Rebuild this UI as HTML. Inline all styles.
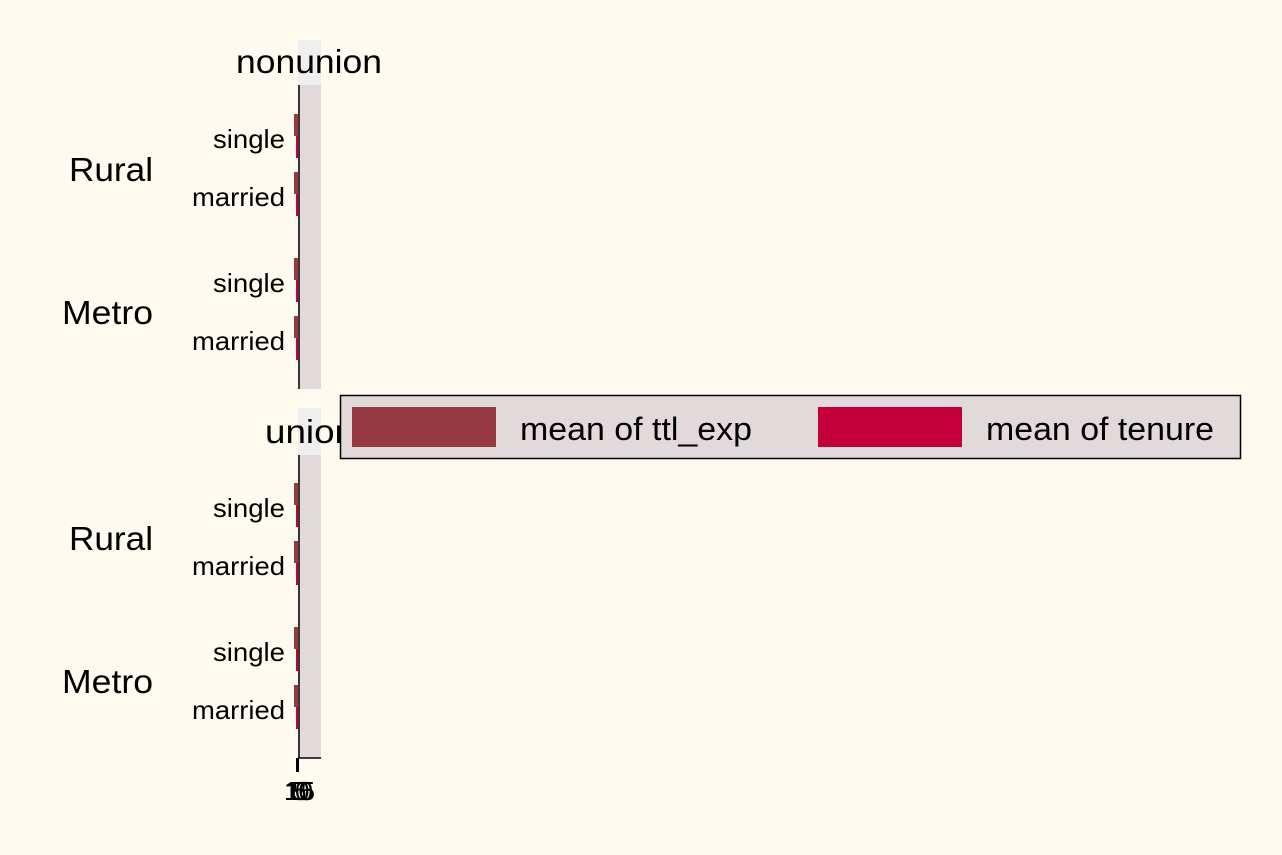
<!DOCTYPE html>
<html><head><style>
body{margin:0;background:#fffaf0;}
svg{display:block;font-family:"Liberation Sans",Helvetica,sans-serif;}
</style></head><body>
<svg width="1282" height="855" viewBox="0 0 1282 855">
<rect width="1282" height="855" fill="#fffaf0"/>
<!-- top panel -->
<rect x="298" y="40" width="23" height="45" fill="#efefef"/>
<rect x="298" y="85" width="23" height="304" fill="#e2dada"/>
<text x="236" y="73" font-size="33" textLength="146" lengthAdjust="spacingAndGlyphs">nonunion</text>
<line x1="299" y1="85" x2="299" y2="389" stroke="#000" stroke-width="1.5"/>
<!-- bottom panel -->
<rect x="298" y="408" width="23" height="47" fill="#efefef"/>
<rect x="298" y="455" width="23" height="303" fill="#e2dada"/>
<text x="265" y="443" font-size="33" textLength="90" lengthAdjust="spacingAndGlyphs">union</text>
<line x1="299" y1="455" x2="299" y2="758" stroke="#000" stroke-width="1.5"/>
<line x1="298" y1="758" x2="321" y2="758" stroke="#000" stroke-width="1.5"/>
<rect x="296" y="758" width="3" height="14" fill="#000"/>
<text x="284" y="800" font-size="26">10</text>
<text x="286" y="800" font-size="26">15</text>
<text x="292" y="800" font-size="26">5</text>
<text x="295" y="800" font-size="26">0</text>
<!-- bars -->
<g>
<rect x="294" y="114" width="4" height="22" fill="#943a40"/><rect x="296" y="136" width="2" height="22" fill="#c4003a"/>
<rect x="294" y="172" width="4" height="22" fill="#943a40"/><rect x="296" y="194" width="2" height="22" fill="#c4003a"/>
<rect x="294" y="258" width="4" height="22" fill="#943a40"/><rect x="296" y="280" width="2" height="22" fill="#c4003a"/>
<rect x="294" y="316" width="4" height="22" fill="#943a40"/><rect x="296" y="338" width="2" height="22" fill="#c4003a"/>
<rect x="294" y="483" width="4" height="22" fill="#943a40"/><rect x="296" y="505" width="2" height="22" fill="#c4003a"/>
<rect x="294" y="541" width="4" height="22" fill="#943a40"/><rect x="296" y="563" width="2" height="22" fill="#c4003a"/>
<rect x="294" y="627" width="4" height="22" fill="#943a40"/><rect x="296" y="649" width="2" height="22" fill="#c4003a"/>
<rect x="294" y="685" width="4" height="22" fill="#943a40"/><rect x="296" y="707" width="2" height="22" fill="#c4003a"/>
</g>
<g font-size="26" lengthAdjust="spacingAndGlyphs">
<text x="213" y="148" textLength="72" lengthAdjust="spacingAndGlyphs">single</text><text x="192" y="206" textLength="93" lengthAdjust="spacingAndGlyphs">married</text>
<text x="213" y="292" textLength="72" lengthAdjust="spacingAndGlyphs">single</text><text x="192" y="350" textLength="93" lengthAdjust="spacingAndGlyphs">married</text>
<text x="213" y="517" textLength="72" lengthAdjust="spacingAndGlyphs">single</text><text x="192" y="575" textLength="93" lengthAdjust="spacingAndGlyphs">married</text>
<text x="213" y="661" textLength="72" lengthAdjust="spacingAndGlyphs">single</text><text x="192" y="719" textLength="93" lengthAdjust="spacingAndGlyphs">married</text>
</g>
<g font-size="33">
<text x="69" y="181" textLength="84" lengthAdjust="spacingAndGlyphs">Rural</text><text x="62" y="324" textLength="91" lengthAdjust="spacingAndGlyphs">Metro</text>
<text x="69" y="550" textLength="84" lengthAdjust="spacingAndGlyphs">Rural</text><text x="62" y="693" textLength="91" lengthAdjust="spacingAndGlyphs">Metro</text>
</g>
<!-- legend -->
<rect x="340.5" y="395.5" width="900" height="63" fill="#e2dada" stroke="#000" stroke-width="1.5"/>
<rect x="352" y="407" width="144" height="40" fill="#943a40"/>
<rect x="818" y="407" width="144" height="40" fill="#c4003a"/>
<text x="520" y="440" font-size="32" textLength="232" lengthAdjust="spacingAndGlyphs">mean of ttl_exp</text>
<text x="986" y="440" font-size="32" textLength="228" lengthAdjust="spacingAndGlyphs">mean of tenure</text>
</svg>
</body></html>
